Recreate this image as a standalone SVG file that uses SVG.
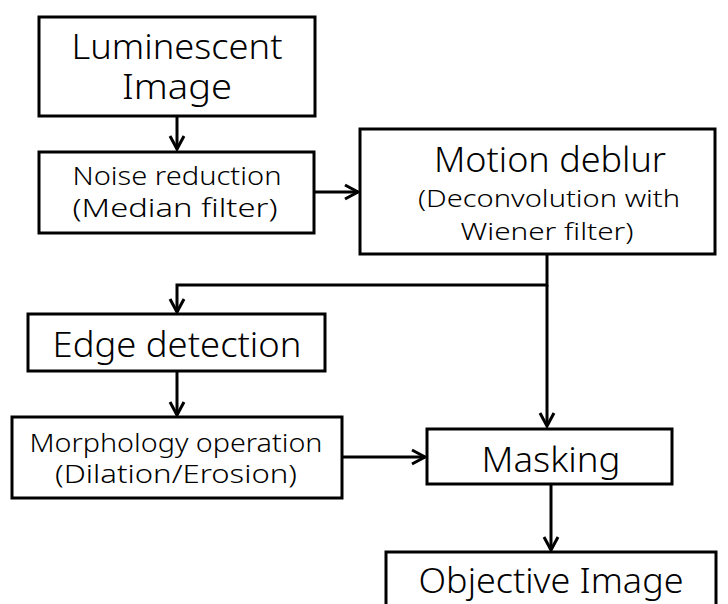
<svg xmlns="http://www.w3.org/2000/svg" width="728" height="604" viewBox="0 0 728 604">
  <style>
    .box { fill: #ffffff; stroke: #000000; stroke-width: 3; }
    .wire { fill: none; stroke: #000000; stroke-width: 3; }
    text { font-family: "Noto Sans", "Open Sans", "DejaVu Sans", sans-serif; font-weight: 300; fill: #000000; text-anchor: middle; }
    .big { font-size: 34px; }
    .mid { font-size: 26px; }
    .small { font-size: 24px; }
  </style>
  <defs>
    <marker id="arrow" markerUnits="userSpaceOnUse" markerWidth="20" markerHeight="20" viewBox="-16 -10 20 20" refX="0" refY="0" orient="auto">
      <path d="M-13,-7 L0,0 L-13,7" fill="none" stroke="#000000" stroke-width="3" stroke-linejoin="miter"/>
    </marker>
  </defs>

  <g id="luminescent-image">
    <rect class="box" x="39" y="17" width="276" height="99"/>
    <text class="big" x="177" y="59" textLength="211" lengthAdjust="spacingAndGlyphs">Luminescent</text>
    <text class="big" x="177" y="99" textLength="110" lengthAdjust="spacingAndGlyphs">Image</text>
  </g>

  <g id="noise-reduction">
    <rect class="box" x="39" y="152" width="275" height="81"/>
    <text class="mid" x="177" y="185" textLength="209" lengthAdjust="spacingAndGlyphs">Noise reduction</text>
    <text class="mid" x="175" y="217" textLength="205" lengthAdjust="spacingAndGlyphs">(Median filter)</text>
  </g>

  <g id="motion-deblur">
    <rect class="box" x="360" y="129" width="355" height="125"/>
    <text class="big" x="550" y="172" textLength="232" lengthAdjust="spacingAndGlyphs">Motion deblur</text>
    <text class="small" x="549" y="207" textLength="262" lengthAdjust="spacingAndGlyphs">(Deconvolution with</text>
    <text class="small" x="547" y="240" textLength="173" lengthAdjust="spacingAndGlyphs">Wiener filter)</text>
  </g>

  <g id="edge-detection">
    <rect class="box" x="28" y="314" width="297" height="57"/>
    <text class="big" x="177" y="357" textLength="249" lengthAdjust="spacingAndGlyphs">Edge detection</text>
  </g>

  <g id="morphology-operation">
    <rect class="box" x="12" y="417" width="330" height="81"/>
    <text class="mid" x="176" y="452" textLength="293" lengthAdjust="spacingAndGlyphs">Morphology operation</text>
    <text class="mid" x="176" y="483" textLength="242" lengthAdjust="spacingAndGlyphs">(Dilation/Erosion)</text>
  </g>

  <g id="masking">
    <rect class="box" x="427" y="429" width="245" height="55"/>
    <text class="big" x="551" y="472" textLength="139" lengthAdjust="spacingAndGlyphs">Masking</text>
  </g>

  <g id="objective-image">
    <rect class="box" x="386" y="552" width="330" height="70"/>
    <text class="big" x="551" y="593" textLength="265" lengthAdjust="spacingAndGlyphs">Objective Image</text>
  </g>

  <g id="connectors">
    <path class="wire" d="M177,116 V149" marker-end="url(#arrow)"/>
    <path class="wire" d="M314,192 H358" marker-end="url(#arrow)"/>
    <path class="wire" d="M547,254 V285 H177 V312" marker-end="url(#arrow)"/>
    <path class="wire" d="M547,285 V426" marker-end="url(#arrow)"/>
    <path class="wire" d="M177,371 V415" marker-end="url(#arrow)"/>
    <path class="wire" d="M342,457 H425" marker-end="url(#arrow)"/>
    <path class="wire" d="M551,484 V550" marker-end="url(#arrow)"/>
  </g>
</svg>
